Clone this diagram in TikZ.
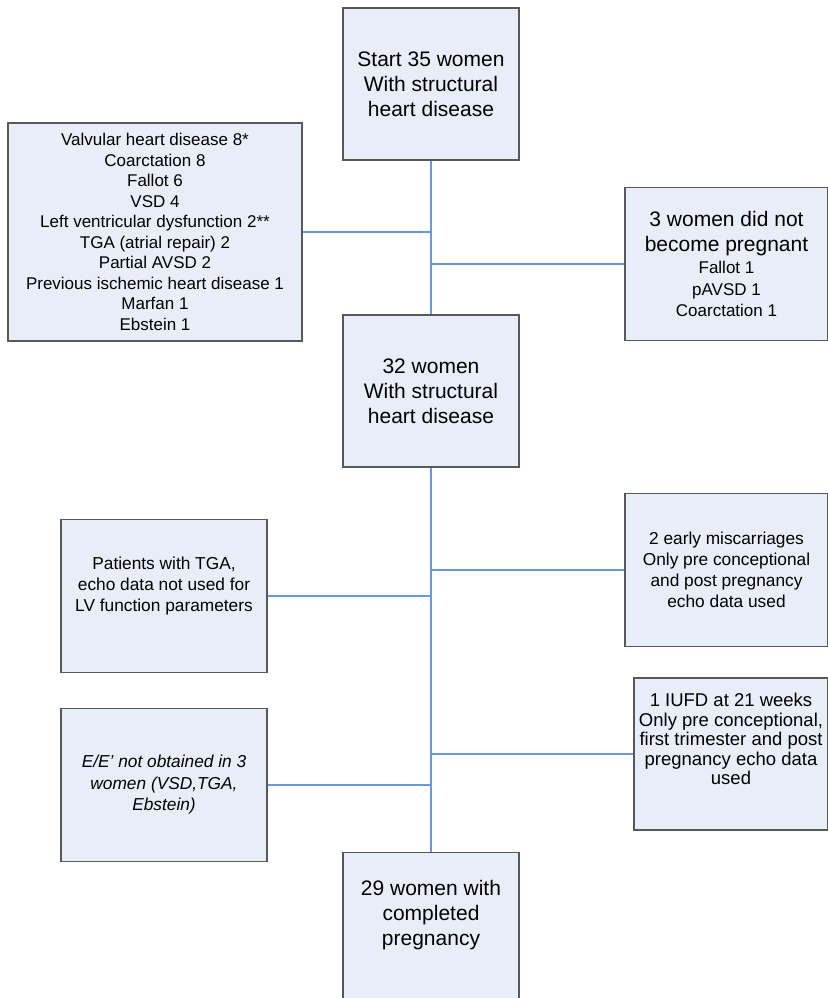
\documentclass[tikz,border=0pt]{standalone}
\usepackage{fontspec}
\setmainfont{Liberation Sans}
\usepackage{amsmath}

\definecolor{boxfill}{RGB}{232,238,248}
\definecolor{boxline}{RGB}{88,88,88}
\definecolor{linkblue}{RGB}{110,150,222}

\newcommand{\bigtxt}{\fontsize{21}{25}\selectfont}
\newcommand{\smalltxt}{\fontsize{17}{20.5}\selectfont}

\tikzset{
    box/.style={draw=boxline, fill=boxfill, line width=1.5pt, align=center,
        inner sep=0pt, minimum width=176pt, minimum height=152pt},
    link/.style={draw=linkblue, line width=1.3pt}
}

\begin{document}
\begin{tikzpicture}[x=1pt, y=-1pt]

    \useasboundingbox (0,0) rectangle (827,998);

    % main column
    \node[box, font=\bigtxt] (start) at (431,84) {Start 35 women\\ With structural\\ heart disease};
    \node[box, font=\bigtxt] (women32) at (431,391) {32 women\\ With structural\\ heart disease};
    \node[box, font=\bigtxt, text depth=31pt] (final) at (431,928.5) {29 women with\\ completed\\ pregnancy};

    % side boxes
    \node[box, font=\smalltxt, minimum width=294pt, minimum height=218pt] (diagnoses) at (155,232)
        {Valvular heart disease 8*\\ Coarctation 8\\ Fallot 6\\ VSD 4\\ Left ventricular dysfunction 2**\\
         TGA (atrial repair) 2\\ Partial AVSD 2\\ Previous ischemic heart disease 1\\ Marfan 1\\ Ebstein 1};
    \node[box, font=\bigtxt, minimum width=203pt, minimum height=153pt] (nopreg) at (726.5,264)
        {3 women did not\\ become pregnant\\[-3pt] \smalltxt Fallot 1\\[-3.5pt] \smalltxt pAVSD 1\\[-3.5pt] \smalltxt Coarctation 1};
    \node[box, font=\fontsize{17.3}{21}\selectfont, minimum width=206pt, minimum height=153pt, text depth=23pt] (tga) at (164,596)
        {Patients with TGA,\\ echo data not used for\\ LV function parameters};
    \node[box, font=\fontsize{17.3}{21}\selectfont, minimum width=203pt, minimum height=153pt] (misc) at (726.5,570)
        {2 early miscarriages\\ Only pre conceptional\\ and post pregnancy\\ echo data used};
    \node[box, font=\fontsize{17.3}{21.5}\selectfont\itshape, minimum width=206pt, minimum height=153pt] (eeprime) at (164,785)
        {E/E' not obtained in 3\\ women (VSD,TGA,\\ Ebstein)};
    \node[box, font=\fontsize{18.5}{19.5}\selectfont, minimum width=194pt, minimum height=152pt, text depth=30pt] (iufd) at (731,754)
        {1 IUFD at 21 weeks\\ Only pre conceptional,\\ first trimester and post\\ pregnancy echo data\\ used};

    % connectors
    \draw[link] (start) -- (women32);
    \draw[link] (women32) -- (final);
    \draw[link] (diagnoses.east) -- (diagnoses.east -| start.south);
    \draw[link] (nopreg.west) -- (nopreg.west -| start.south);
    \draw[link] (tga.east) -- (tga.east -| women32.south);
    \draw[link] (misc.west) -- (misc.west -| women32.south);
    \draw[link] (eeprime.east) -- (eeprime.east -| women32.south);
    \draw[link] (iufd.west) -- (iufd.west -| women32.south);

\end{tikzpicture}
\end{document}
